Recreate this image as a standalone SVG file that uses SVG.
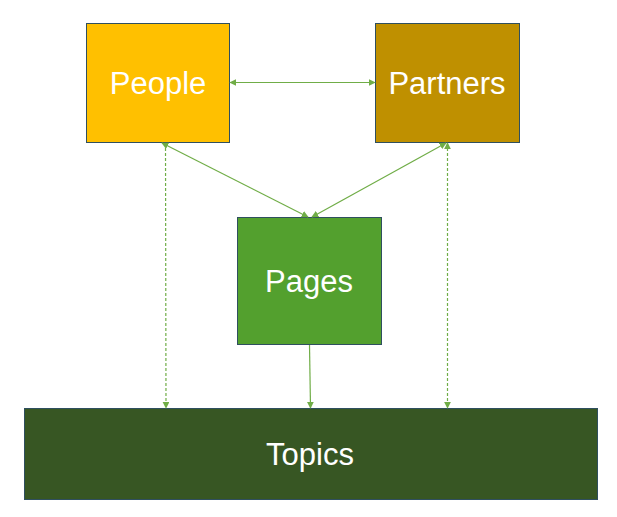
<svg xmlns="http://www.w3.org/2000/svg" width="617" height="517" viewBox="0 0 617 517">
<style>
.box{stroke:#2F4F5F;stroke-width:1}
.lbl{font-family:"Liberation Sans",Arial,sans-serif;font-size:31px;fill:#fff;text-anchor:middle}
.c{stroke:#70AD47;stroke-width:1.2;fill:none}
.d{stroke-dasharray:3,2}
</style>
<defs>
<marker id="a" viewBox="0 0 10 10" refX="9" refY="5" markerWidth="7" markerHeight="7" markerUnits="userSpaceOnUse" orient="auto-start-reverse">
<path d="M0,0 L10,5 L0,10 z" fill="#70AD47"/>
</marker>
</defs>
<rect width="617" height="517" fill="#fff"/>
<g id="people"><rect class="box" x="86.5" y="23.5" width="143" height="119" fill="#FFC000"/><text class="lbl" x="158" y="94">People</text></g>
<g id="partners"><rect class="box" x="375.5" y="23.5" width="144" height="119" fill="#BF9000"/><text class="lbl" x="447" y="94">Partners</text></g>
<g id="pages"><rect class="box" x="237.5" y="217.5" width="144" height="127" fill="#53A02E"/><text class="lbl" x="309" y="292">Pages</text></g>
<g id="topics"><rect class="box" x="24.5" y="408.5" width="573" height="91" fill="#375623"/><text class="lbl" x="310" y="465">Topics</text></g>
<g id="connectors">
<line class="c" x1="230" y1="82.5" x2="375" y2="82.5" marker-start="url(#a)" marker-end="url(#a)"/>
<line class="c" x1="162" y1="143" x2="308" y2="217" marker-start="url(#a)" marker-end="url(#a)"/>
<line class="c" x1="446" y1="143" x2="312" y2="217" marker-start="url(#a)" marker-end="url(#a)"/>
<line class="c d" x1="165.5" y1="143" x2="166" y2="408" marker-end="url(#a)"/>
<line class="c d" x1="447.5" y1="143" x2="447.5" y2="408" marker-start="url(#a)" marker-end="url(#a)"/>
<line class="c" x1="309.5" y1="345" x2="310.5" y2="408" marker-end="url(#a)"/>
</g>
</svg>
